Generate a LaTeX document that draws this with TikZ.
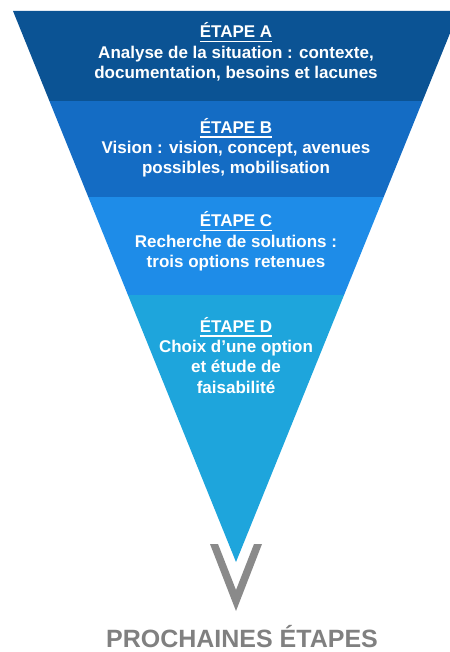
\documentclass[tikz,border=0pt]{standalone}
\usepackage{fontspec}
\setmainfont{Liberation Sans}
\definecolor{bandA}{HTML}{0B5394}
\definecolor{bandB}{HTML}{146CC4}
\definecolor{bandC}{HTML}{1E8CE8}
\definecolor{bandD}{HTML}{1EA5DC}
\definecolor{vgrey}{HTML}{8A8A8A}
\definecolor{tgrey}{HTML}{808080}
\newcommand\myul[1]{\setbox0\hbox{#1}\rlap{\rule[-4.5pt]{\wd0}{1.4pt}}\box0}
\begin{document}
\begin{tikzpicture}[x=1pt,y=-1pt,
  steptext/.style={align=center,text=white,font=\bfseries\fontsize{17}{20.3}\selectfont,inner sep=0pt,anchor=base},
]
\useasboundingbox (0,0) rectangle (449,652);
\coordinate (TL) at (13,11);
\coordinate (TR) at (459,11);
\coordinate (apex) at (236,562);
\begin{scope}
  \clip (TL) -- (TR) -- (apex) -- cycle;
  \fill[bandA] (0,0) rectangle (470,101);
  \fill[bandB] (0,101) rectangle (470,197);
  \fill[bandC] (0,197) rectangle (470,295);
  \fill[bandD] (0,295) rectangle (470,580);
\end{scope}
\fill[vgrey] (210,544) -- (218,544) -- (236,590) -- (254,544) -- (262,544) -- (236,611) -- cycle;
% base anchor = baseline of the last line
\node[steptext] (a) at (236,78.6) {\myul{ÉTAPE A}\\Analyse de la situation : contexte,\\documentation, besoins et lacunes};
\node[steptext] (b) at (236,173.8) {\myul{ÉTAPE B}\\Vision : vision, concept, avenues\\possibles, mobilisation};
\node[steptext] (c) at (236,267.5) {\myul{ÉTAPE C}\\Recherche de solutions :\\trois options retenues};
\node[steptext] (d) at (236,393) {\myul{ÉTAPE D}\\Choix d’une option\\et étude de\\faisabilité};
\node[anchor=base,inner sep=0pt,text depth=0pt,text=tgrey,font=\bfseries\fontsize{25}{28}\selectfont] (next) at (242,647.5) {PROCHAINES ÉTAPES};
\end{tikzpicture}
\end{document}
